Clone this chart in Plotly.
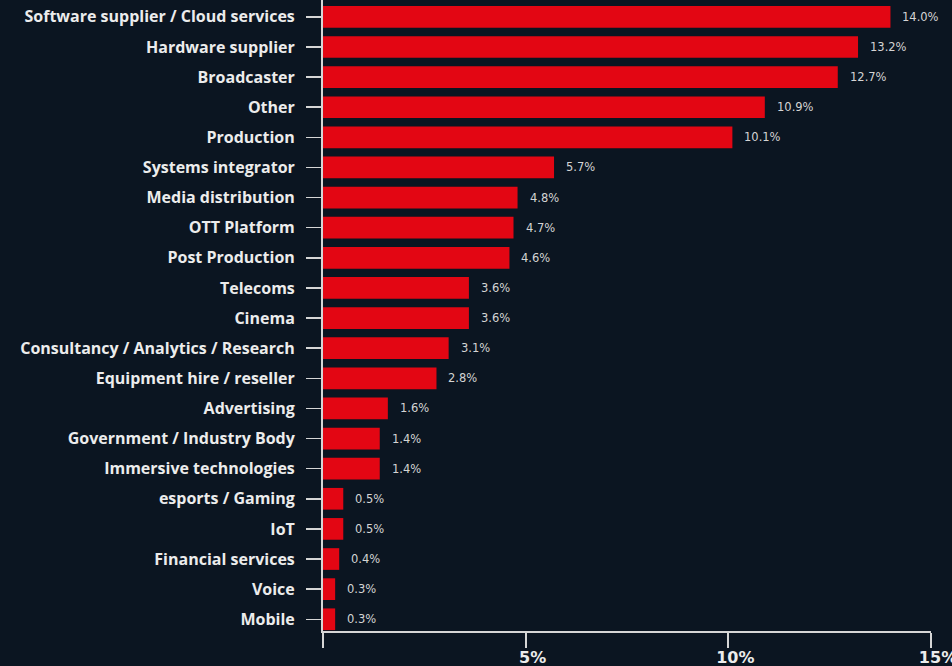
import plotly.graph_objects as go

categories = [
    "Software supplier / Cloud services", "Hardware supplier", "Broadcaster", "Other",
    "Production", "Systems integrator", "Media distribution", "OTT Platform",
    "Post Production", "Telecoms", "Cinema", "Consultancy / Analytics / Research",
    "Equipment hire / reseller", "Advertising", "Government / Industry Body",
    "Immersive technologies", "esports / Gaming", "IoT", "Financial services",
    "Voice", "Mobile",
]
values = [14.0, 13.2, 12.7, 10.9, 10.1, 5.7, 4.8, 4.7, 4.6, 3.6, 3.6, 3.1, 2.8,
          1.6, 1.4, 1.4, 0.5, 0.5, 0.4, 0.3, 0.3]
value_labels = [f"{v:.1f}%" for v in values]
x_tickvals = [0, 5, 10, 15]
x_ticktext = ["", "5%", "10%", "15%"]

BG = "#0b1521"
RED = "#e30613"
LINE = "#d6d6d6"

cats_plot = categories[::-1]
vals_plot = values[::-1]
labels_plot = value_labels[::-1]

fig = go.Figure()
fig.add_trace(go.Bar(
    x=vals_plot, y=cats_plot, orientation="h",
    marker=dict(color=RED, line=dict(width=0)),
    width=0.72, hoverinfo="skip",
))

for c, v, t in zip(cats_plot, vals_plot, labels_plot):
    fig.add_annotation(
        x=v, y=c, text=t, xanchor="left", yanchor="middle",
        xshift=10, showarrow=False,
        font=dict(family="DejaVu Sans", size=11.5, color="#d4d4d4"),
    )

fig.update_layout(
    width=952, height=666,
    paper_bgcolor=BG, plot_bgcolor=BG,
    margin=dict(l=323, r=21, t=0, b=35, autoexpand=False),
    showlegend=False,
    xaxis=dict(
        range=[0, 15], tickvals=x_tickvals, ticktext=x_ticktext,
        showgrid=False, zeroline=False,
        showline=True, linecolor=LINE, linewidth=2,
        ticks="outside", ticklen=15, tickwidth=2, tickcolor=LINE,
        tickfont=dict(family="DejaVu Sans", size=16, color="#ececec", weight="bold"),
        ticklabelshift=7, ticklabelstandoff=-4, ticklabeloverflow="allow",
        fixedrange=True, automargin=False,
    ),
    yaxis=dict(
        categoryorder="array", categoryarray=cats_plot,
        range=[-0.39, 20.56],
        showgrid=False, zeroline=False,
        showline=True, linecolor=LINE, linewidth=2,
        ticks="outside", ticklen=15, tickwidth=1.5, tickcolor=LINE,
        tickfont=dict(family="Open Sans", size=16, color="#ececec", weight="bold"),
        ticklabelstandoff=8, fixedrange=True, automargin=False,
    ),
)

fig.write_html(
    "out.html",
    config={"displayModeBar": False, "staticPlot": True},
    post_script="document.body.style.margin='0';document.body.style.background='%s';" % BG,
)
